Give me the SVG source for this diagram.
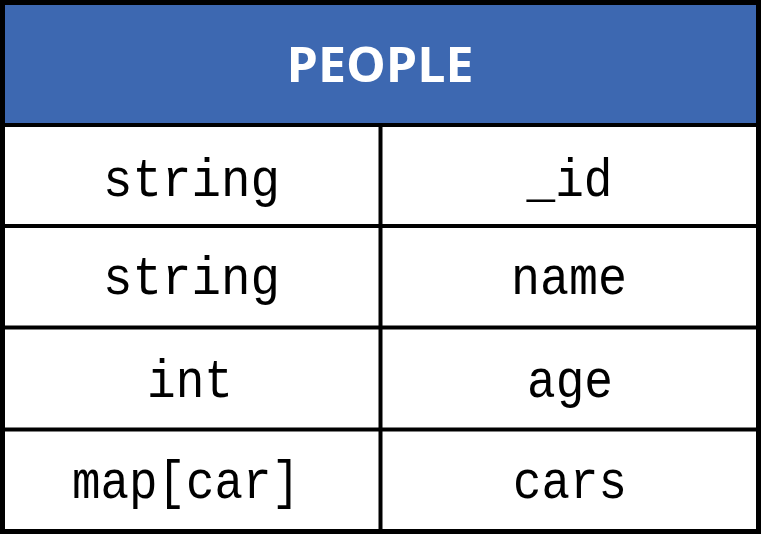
<svg xmlns="http://www.w3.org/2000/svg" width="761" height="534" viewBox="0 0 761 534">
<style>
.hdr{fill:#3d68b1}
.ln{stroke:#000;fill:none}
.outer{stroke-width:5}
.inner{stroke-width:4}
.mono{font-family:"Liberation Mono","DejaVu Sans Mono",monospace;font-size:53px;fill:#000;text-anchor:middle}
.title{font-family:"Open Sans","Liberation Sans",sans-serif;font-weight:bold;font-size:48px;fill:#fff;text-anchor:middle}
</style>
<rect width="761" height="534" fill="#fff"/>
<g id="header">
<rect class="hdr" x="2" y="2" width="757" height="123"/>
<text class="title" x="380" y="82" textLength="187" lengthAdjust="spacingAndGlyphs">PEOPLE</text>
</g>
<g id="row-id">
<text class="mono" x="191.5" y="196" textLength="177" lengthAdjust="spacingAndGlyphs">string</text>
<text class="mono" x="569.5" y="196" textLength="86" lengthAdjust="spacingAndGlyphs">_id</text>
</g>
<g id="row-name">
<text class="mono" x="191.5" y="294" textLength="177" lengthAdjust="spacingAndGlyphs">string</text>
<text class="mono" x="569" y="294" textLength="116" lengthAdjust="spacingAndGlyphs">name</text>
</g>
<g id="row-age">
<text class="mono" x="190" y="397" textLength="86" lengthAdjust="spacingAndGlyphs">int</text>
<text class="mono" x="570" y="397" textLength="86" lengthAdjust="spacingAndGlyphs">age</text>
</g>
<g id="row-cars">
<text class="mono" x="186" y="498" textLength="228" lengthAdjust="spacingAndGlyphs">map[car]</text>
<text class="mono" x="570" y="498" textLength="114" lengthAdjust="spacingAndGlyphs">cars</text>
</g>
<g id="grid">
<rect class="ln outer" x="2.5" y="2.5" width="756" height="529"/>
<line class="ln inner" x1="2" y1="125" x2="759" y2="125"/>
<line class="ln inner" x1="2" y1="226" x2="759" y2="226"/>
<line class="ln inner" x1="2" y1="327.5" x2="759" y2="327.5"/>
<line class="ln inner" x1="2" y1="429.5" x2="759" y2="429.5"/>
<line class="ln inner" x1="380.5" y1="125" x2="380.5" y2="531"/>
</g>
</svg>
